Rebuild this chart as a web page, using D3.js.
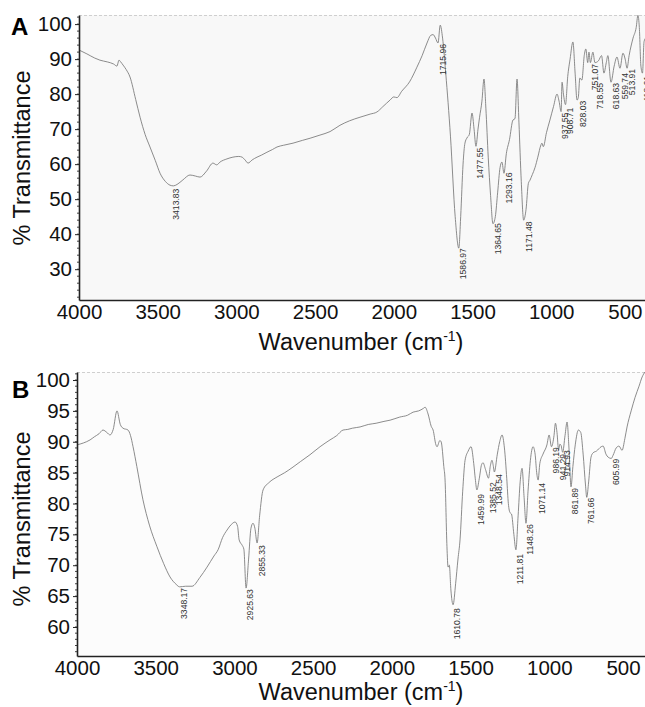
<!DOCTYPE html>
<html>
<head>
<meta charset="utf-8">
<script src="https://cdn.jsdelivr.net/npm/d3@7"></script>
<style>
  html, body { margin:0; padding:0; background:#fff; }
  svg { display:block; font-family:"Liberation Sans", Arial, sans-serif; }
</style>
</head>
<body>
<div id="chart"></div>
<script>
// FTIR spectra, two panels (A, B)
// Data
const xTicks = [4000, 3500, 3000, 2500, 2000, 1500, 1000, 500];
const yTicksA = [30, 40, 50, 60, 70, 80, 90, 100];
const yTicksB = [60, 65, 70, 75, 80, 85, 90, 95, 100];

// [wavenumber, %T]
const specA = [
  [4000,92.6],[3950,91.5],[3900,90.3],[3867,89.7],[3820,89.2],[3780,88.6],[3759,88.0],
  [3746,89.7],[3735,89.2],[3720,88.3],[3700,87.0],[3676,84.9],[3640,78.5],[3612,73.4],
  [3580,68.5],[3549,64.9],[3515,61.0],[3485,57.4],[3450,55.0],[3422,54.0],[3400,53.8],
  [3377,54.2],[3340,55.5],[3295,56.9],[3260,56.6],[3231,56.3],[3190,58.0],[3149,60.3],
  [3125,59.8],[3104,60.6],[3060,61.5],[3022,62.0],[2985,62.2],[2964,62.0],[2945,61.2],
  [2926,60.3],[2900,61.2],[2869,62.0],[2840,62.6],[2806,63.4],[2770,64.2],[2742,64.9],
  [2700,65.4],[2640,66.0],[2580,66.8],[2532,67.4],[2469,68.3],[2405,69.3],[2342,71.1],
  [2280,72.4],[2215,73.4],[2150,74.3],[2107,74.9],[2070,76.4],[2024,78.3],[2000,79.2],
  [1980,79.0],[1950,80.8],[1900,83.5],[1853,87.7],[1820,91.0],[1789,94.6],[1765,96.8],
  [1750,97.0],[1735,96.0],[1719,94.6],[1705,99.7],[1690,96.0],[1670,86.0],[1640,68.0],
  [1610,45.0],[1587,36.0],[1575,45.0],[1560,60.0],[1548,66.0],[1535,67.5],[1520,68.5],
  [1503,74.6],[1490,70.0],[1478,65.1],[1465,70.0],[1455,73.4],[1440,78.0],[1427,84.3],
  [1415,76.0],[1400,62.0],[1385,51.0],[1370,43.0],[1355,45.0],[1340,52.0],[1325,59.0],
  [1313,60.6],[1300,57.4],[1285,63.0],[1265,67.0],[1243,72.6],[1230,73.0],[1217,84.3],
  [1205,72.0],[1190,55.0],[1175,44.0],[1160,47.0],[1145,54.5],[1135,55.4],[1120,57.0],
  [1103,59.0],[1085,62.0],[1065,65.5],[1059,66.0],[1050,65.0],[1030,69.0],[1008,72.6],
  [985,76.5],[963,80.0],[950,78.0],[937,75.0],[931,83.4],[922,80.0],[909,77.0],
  [895,85.0],[880,90.0],[862,94.9],[848,86.0],[836,78.3],[828,79.0],[818,84.6],
  [805,84.0],[790,91.0],[780,92.9],[768,89.0],[760,92.0],[751,89.0],[735,92.0],
  [722,89.0],[700,89.5],[680,91.0],[665,86.0],[650,89.0],[640,91.0],[620,83.4],
  [600,88.0],[582,90.6],[563,87.4],[544,91.7],[530,90.0],[518,87.4],[505,91.0],
  [480,96.0],[460,99.0],[449,102.5],[440,99.0],[430,88.0],[420,86.0],[410,95.0],[400,96.0]
];

const specB = [
  [4000,89.5],[3960,89.8],[3917,90.3],[3890,90.8],[3860,91.3],[3835,91.9],[3810,91.5],
  [3790,91.1],[3770,92.0],[3746,95.0],[3725,92.8],[3708,92.2],[3676,91.9],[3660,91.0],
  [3644,89.2],[3620,86.0],[3581,80.6],[3540,76.5],[3492,73.0],[3450,70.3],[3409,68.1],
  [3370,66.9],[3348,66.5],[3310,66.6],[3269,66.6],[3220,68.0],[3174,69.7],[3130,71.5],
  [3104,72.5],[3075,74.5],[3047,75.7],[3020,76.6],[2996,77.0],[2980,76.3],[2970,74.1],
  [2950,73.2],[2940,72.6],[2926,66.3],[2910,71.0],[2895,76.0],[2882,76.8],[2870,76.0],
  [2856,73.6],[2840,78.0],[2818,82.2],[2780,83.4],[2729,84.3],[2680,85.0],[2628,85.9],
  [2580,86.8],[2520,87.9],[2456,89.2],[2393,90.3],[2350,91.0],[2310,91.9],[2280,92.0],
  [2250,92.2],[2202,92.4],[2150,92.8],[2100,93.0],[2050,93.3],[2011,93.5],[1950,94.0],
  [1900,94.3],[1865,94.8],[1830,95.0],[1800,95.4],[1789,95.6],[1770,94.5],[1750,92.5],
  [1738,91.9],[1720,89.5],[1713,89.2],[1695,90.2],[1687,90.0],[1670,86.0],[1662,83.8],
  [1650,73.0],[1643,69.7],[1635,70.0],[1625,66.0],[1611,63.6],[1595,67.0],[1580,71.0],
  [1567,74.1],[1550,82.0],[1535,87.0],[1515,88.5],[1497,89.2],[1480,86.5],[1470,84.0],
  [1460,82.2],[1445,84.0],[1430,86.3],[1421,86.6],[1405,85.5],[1386,84.1],[1375,86.0],
  [1364,87.0],[1355,86.0],[1349,85.1],[1330,88.0],[1315,90.0],[1300,91.1],[1285,89.0],
  [1270,84.0],[1260,80.0],[1249,78.5],[1240,78.3],[1225,75.0],[1212,72.5],[1198,78.0],
  [1185,83.5],[1173,85.7],[1160,81.0],[1148,76.8],[1135,82.0],[1120,87.0],[1103,89.2],
  [1090,88.0],[1080,85.0],[1071,83.8],[1060,86.5],[1040,88.0],[1015,89.5],[1001,91.1],
  [986,89.2],[970,91.0],[961,93.0],[951,91.5],[941,88.7],[933,89.6],[925,89.4],
  [915,88.3],[900,91.0],[887,93.2],[875,89.0],[862,82.7],[850,86.0],[835,89.5],
  [815,91.9],[800,91.5],[785,88.0],[770,83.0],[762,81.0],[750,83.5],[735,87.5],
  [722,88.2],[700,88.5],[670,89.2],[658,89.3],[640,88.0],[626,87.5],[606,87.3],
  [595,87.8],[575,89.0],[557,89.3],[538,88.6],[520,90.5],[506,92.4],[480,95.0],
  [455,97.2],[430,99.0],[410,100.5],[392,101.3]
];

// peak annotations: text and %T level where the label starts
const peakLabelsA = ["3413.83","1715.96","1586.97","1477.55","1364.65","1293.16","1171.48",
  "937.55","908.71","828.03","751.07","718.55","618.63","559.74","513.91","418.61"];
const peakLevelsA = [53.3, 94.6, 36.3, 65.0, 43.4, 57.9, 43.9,
  75.0, 76.4, 78.4, 88.9, 83.5, 83.5, 86.3, 87.5, 85.5];

const peakLabelsB = ["3348.17","2925.63","2855.33","1610.78","1459.99","1385.52","1348.54",
  "1211.81","1148.26","1071.14","986.19","941.29","914.93","861.89","761.66","605.99"];
const peakLevelsB = [66.5, 66.3, 73.4, 63.2, 81.7, 83.6, 84.9,
  72.0, 76.8, 83.5, 89.3, 88.2, 88.8, 82.7, 81.1, 87.4];

const W = 645, H = 707;
const svg = d3.select("#chart").append("svg")
  .attr("width", W)
  .attr("height", H);

function panel(o) {
  const x = d3.scaleLinear().domain(o.xDomain).range([o.left, o.right]);
  const y = d3.scaleLinear().domain(o.yDomain).range([o.bottom, o.top]);
  const g = svg.append("g");

  g.append("rect")
    .attr("x", o.left).attr("y", o.top)
    .attr("width", o.right - o.left).attr("height", o.bottom - o.top)
    .attr("fill", o.bg);

  // faint top frame
  g.append("line")
    .attr("x1", o.left).attr("x2", o.right)
    .attr("y1", o.top + 0.5).attr("y2", o.top + 0.5)
    .attr("stroke", "#cfcfcf").attr("stroke-dasharray", "3,2");

  const clipId = "clip" + o.name;
  svg.append("clipPath").attr("id", clipId)
    .append("rect")
    .attr("x", o.left).attr("y", o.top - 2)
    .attr("width", o.right - o.left).attr("height", o.bottom - o.top + 2);

  const line = d3.line()
    .x(d => x(d[0]))
    .y(d => y(d[1]))
    .curve(d3.curveMonotoneX);

  g.append("path")
    .datum(o.spec)
    .attr("clip-path", `url(#${clipId})`)
    .attr("fill", "none")
    .attr("stroke", "#777")
    .attr("stroke-width", 0.85)
    .attr("d", line);

  // peak labels
  g.append("g")
    .selectAll("text")
    .data(o.labels)
    .join("text")
    .attr("transform", (d, i) => `translate(${x(+d)},${y(o.levels[i]) + 1}) rotate(-90)`)
    .attr("text-anchor", "end")
    .attr("dy", "0.85em")
    .attr("font-size", 8.6)
    .attr("fill", "#333")
    .text(d => d);

  // minor ticks on y axis
  g.append("g")
    .selectAll("line")
    .data(d3.range(o.minorStart, o.yDomain[1], o.minorStep))
    .join("line")
    .attr("x1", o.left - 2).attr("x2", o.left)
    .attr("y1", d => y(d)).attr("y2", d => y(d))
    .attr("stroke", "#444");

  const ya = g.append("g")
    .attr("transform", `translate(${o.left},0)`)
    .call(d3.axisLeft(y).tickValues(o.yTicks).tickFormat(d3.format("d"))
      .tickSize(4).tickSizeOuter(0).tickPadding(3));
  ya.select(".domain").attr("stroke", "#222").attr("stroke-width", 1.6);
  ya.selectAll(".tick line").attr("stroke", "#222");
  ya.selectAll(".tick text").attr("font-size", 20.5).attr("fill", "#111")
    .attr("font-family", "Liberation Sans, Arial, sans-serif");

  const xa = g.append("g")
    .attr("transform", `translate(0,${o.bottom})`)
    .call(d3.axisBottom(x).tickValues(xTicks).tickFormat(d3.format("d"))
      .tickSize(0).tickSizeOuter(0).tickPadding(4));
  xa.select(".domain").attr("stroke", "#222").attr("stroke-width", 1.6);
  xa.selectAll(".tick text").attr("font-size", 20.5).attr("fill", "#111")
    .attr("font-family", "Liberation Sans, Arial, sans-serif")
    .attr("dx", d => d === 500 ? -5 : 0);

  // axis titles
  const xt = g.append("text")
    .attr("x", o.xTitleX).attr("y", o.xTitleY)
    .attr("text-anchor", "middle")
    .attr("font-size", 23.5)
    .attr("fill", "#111");
  xt.append("tspan").text("Wavenumber (cm");
  xt.append("tspan").attr("font-size", 14).attr("dy", -9).text("-1");
  xt.append("tspan").attr("dy", 9).text(")");

  g.append("text")
    .attr("transform", `translate(${o.yTitleX},${o.yTitleY}) rotate(-90)`)
    .attr("text-anchor", "middle")
    .attr("font-size", 23.5)
    .attr("fill", "#111")
    .text("% Transmittance");

  g.append("text")
    .attr("x", o.letterX).attr("y", o.letterY)
    .attr("font-size", 24)
    .attr("font-weight", "bold")
    .attr("fill", "#000")
    .text(o.name);
}

panel({
  name: "A", spec: specA, labels: peakLabelsA, levels: peakLevelsA, yTicks: yTicksA,
  xDomain: [4000, 404], yDomain: [21.2, 102.6],
  left: 79, right: 645, top: 15, bottom: 300,
  minorStart: 22, minorStep: 2, bg: "#f8f8f8",
  xTitleX: 361, xTitleY: 350, yTitleX: 30, yTitleY: 158, letterX: 11, letterY: 35
});

panel({
  name: "B", spec: specB, labels: peakLabelsB, levels: peakLevelsB, yTicks: yTicksB,
  xDomain: [4000, 392], yDomain: [55.3, 101.3],
  left: 77, right: 645, top: 372, bottom: 656,
  minorStart: 56, minorStep: 1, bg: "#fcfcfc",
  xTitleX: 361, xTitleY: 700, yTitleX: 30, yTitleY: 519, letterX: 12, letterY: 398
});
</script>
</body>
</html>
